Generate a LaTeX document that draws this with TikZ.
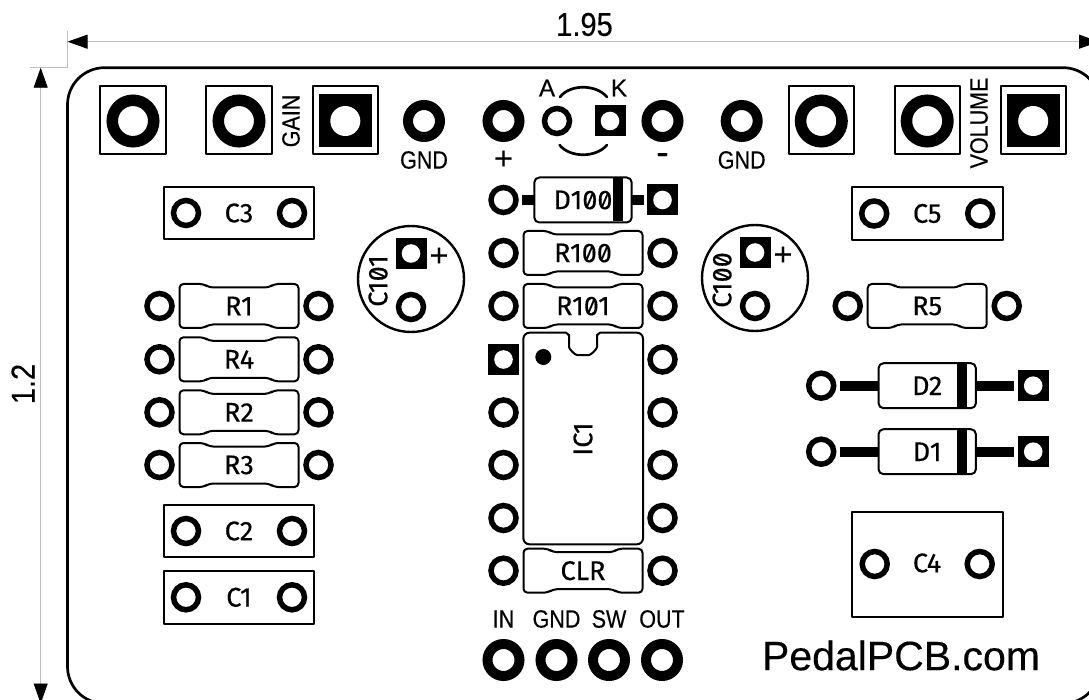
\documentclass[tikz,border=0pt]{standalone}
\usepackage{fontspec}
\usetikzlibrary{arrows.meta}
\setmainfont[FakeBold=0.3]{Liberation Sans}
\newfontfamily\partfont[RawFeature=+zero,FakeBold=0.4]{Fira Sans}
\newfontfamily\tagfont[FakeStretch=0.86,FakeBold=0.3]{Liberation Sans}
\newfontfamily\dimfont[FakeStretch=0.88,FakeBold=0.3]{Liberation Sans}

\tikzset{
  outline/.style={draw=black, line width=2pt, line join=round},
  padbase/.style={circle, draw=black, fill=white, inner sep=0pt},
  smallpad/.style={padbase, line width=5.5pt, minimum size=25pt},
  midpad/.style={padbase, line width=10pt, minimum size=32pt},
  bigpad/.style={padbase, line width=11.5pt, minimum size=41.5pt},
  squarepad/.style={rectangle, fill=black, inner sep=0pt, minimum size=31pt,
    path picture={\fill[white] (path picture bounding box.center) circle (9.3pt);}},
  bigsquarepad/.style={rectangle, fill=black, inner sep=0pt, minimum size=53pt,
    path picture={\fill[white] (path picture bounding box.center) circle (15pt);}},
  partname/.style={inner sep=0pt, font=\partfont\fontsize{27}{29}\selectfont},
  tagname/.style={inner sep=0pt, font=\tagfont\fontsize{25}{27}\selectfont},
  signname/.style={inner sep=0pt, font=\fontsize{32}{34}\selectfont},
  dimname/.style={inner sep=0pt, font=\dimfont\fontsize{33}{35}\selectfont},
  dimline/.style={draw=black!25, line width=0.8pt},
  dimtips/.style={{Triangle[length=20pt,width=14pt,color=black]}-{Triangle[length=20pt,width=14pt,color=black]}},
  lead/.style={line width=10pt},
  pics/resistor/.style={code={
    \draw[outline, rounded corners=4pt] (-59.5,-22) -- (-35,-22) -- (-30,-18.5) -- (30,-18.5) -- (35,-22)
      -- (59.5,-22) -- (59.5,22) -- (35,22) -- (30,18.5) -- (-30,18.5) -- (-35,22) -- (-59.5,22) -- cycle;
    \node[partname] (t) at (0,0) {#1};
    \node[smallpad] (a) at (-79.5,0) {};
    \node[smallpad] (b) at (79.5,0) {};
  }},
  pics/film/.style={code={
    \draw[outline] (-75.3,-26.3) rectangle (75.3,26.3);
    \node[partname] (t) at (0,0) {#1};
    \node[smallpad] (a) at (-53,0) {};
    \node[smallpad] (b) at (53,0) {};
  }},
  pics/diode/.style n args={3}{code={
    \draw[outline, rounded corners=5pt] (-48.7,-22.5) rectangle (48.7,22.5);
    \fill (29.7,-21.5) rectangle (39.7,21.5);
    \coordinate (la) at (-#2,0);
    \coordinate (ra) at (-48.7,0);
    \coordinate (lb) at (48.7,0);
    \coordinate (rb) at (#2,0);
    \draw[lead] (la) -- (ra);
    \draw[lead] (lb) -- (rb);
    \node[partname] (t) at (0,0) {#1};
    \node[smallpad] (a) at (-#3,0) {};
    \node[squarepad] (b) at (#3,0) {};
  }},
  pics/pot/.style={code={
    \draw[outline] (-32.6,-35) rectangle (32.6,32.7);
    \node[#1] (p) at (0,0) {};
  }},
  pics/radial/.style={code={
    \draw[outline, line width=2.4pt] (0,0) circle (53);
    \node[squarepad] (a) at (0,-25.5) {};
    \node[smallpad] (b) at (0,28) {};
    \node[partname] (t) at (-33,2) [rotate=90] {#1};
    \node[signname] (s) at (28,-22) {+};
  }},
}

\begin{document}
\begin{tikzpicture}[x=1pt, y=-1pt]
  \clip (0,0) rectangle (1089,700);
  \useasboundingbox (0,0) rectangle (1089,700);

  % Dimensions
  \coordinate (wl) at (67.5,41.7);
  \coordinate (wr) at (1099,41.7);
  \coordinate (ht) at (40.7,67.7);
  \coordinate (hb) at (40.7,703.5);
  \coordinate (wlt) at (67.5,31.5);
  \coordinate (wlb) at (67.5,67.7);
  \coordinate (hte) at (30,67.7);
  \draw[dimline] (wlt) -- (wlb);
  \draw[dimline] (hte) -- (wlb);
  \draw[dimline, dimtips] (wl) -- (wr);
  \draw[dimline, dimtips] (ht) -- (hb);
  \node[dimname] (width) at (584.5,24.5) {1.95};
  \node[dimname, rotate=90] (height) at (23,384) {1.2};

  % Board
  \draw[draw=black, line width=2.7pt, rounded corners=37pt] (67.5,67.7) rectangle (1100,703.5);

  % Top row
  \pic (pota) at (133,121) {pot=bigpad};
  \pic (potb) at (239,121) {pot=bigpad};
  \pic (potc) at (345.3,121) {pot=bigsquarepad};
  \node[tagname, rotate=90] (gain) at (291,121) {GAIN};
  \node[midpad] (gnda) at (424,121) {};
  \node[tagname] (gndat) at (424,160) {GND};
  \node[midpad] (plus) at (503.5,121) {};
  \node[signname] (plust) at (503.5,160) {+};
  \node[smallpad] (anode) at (557,121) {};
  \node[squarepad] (cathode) at (610,121) {};
  \node[inner sep=0pt, font=\fontsize{24}{26}\selectfont] (anodet) at (547,88) {A};
  \node[inner sep=0pt, font=\fontsize{24}{26}\selectfont] (cathodet) at (619,88) {K};
  \draw[line width=2.7pt, line cap=round] (560,97) .. controls (570,84) and (596,84) .. (607,97);
  \draw[line width=2.7pt, line cap=round] (559.5,145) .. controls (570,158) and (596,158) .. (607,145);
  \node[midpad] (minus) at (662.5,121) {};
  \node[signname, font=\fontsize{38}{40}\selectfont] (minust) at (662.5,159) {-};
  \node[midpad] (gndb) at (741.7,121) {};
  \node[tagname] (gndbt) at (741.7,160) {GND};
  \pic (potd) at (821.3,121) {pot=bigpad};
  \pic (pote) at (927.2,121) {pot=bigpad};
  \pic (potf) at (1033.2,121) {pot=bigsquarepad};
  \node[tagname, rotate=90] (volume) at (979,123) {VOLUME};

  % Left parts
  \pic (c3) at (239,213) {film=C3};
  \pic (c101) at (411,279) {radial=C101};
  \pic (r1) at (239,306) {resistor=R1};
  \pic (r4) at (239,359.3) {resistor=R4};
  \pic (r2) at (239,412.3) {resistor=R2};
  \pic (r3) at (239,465) {resistor=R3};
  \pic (c2) at (239,531) {film=C2};
  \pic (c1) at (239,597.3) {film=C1};

  % Middle column
  \pic (d100) at (583,200) {diode={D100}{61}{79.5}};
  \pic (r100) at (583,253) {resistor=R100};
  \pic (r101) at (583,306) {resistor=R101};
  \pic (clr) at (583,570.7) {resistor=CLR};
  \draw[outline, rounded corners=6pt] (523.4,332.7) -- (560,332.7)
    .. controls (567,332.7) and (569,336) .. (569,341)
    .. controls (569,349) and (575,355) .. (583,355)
    .. controls (591,355) and (597,349) .. (597,341)
    .. controls (597,336) and (599,332.7) .. (606,332.7)
    -- (643,332.7) -- (643,544.3) -- (523.4,544.3) -- cycle;
  \fill (543.3,357) circle (8);
  \node[partname, rotate=90] (ic1) at (583,439) {IC1};
  \node[squarepad] (pin1) at (503.5,359.5) {};
  \node[smallpad] (pin2) at (503.5,412.5) {};
  \node[smallpad] (pin3) at (503.5,465) {};
  \node[smallpad] (pin4) at (503.5,518) {};
  \node[smallpad] (pin5) at (662.5,518) {};
  \node[smallpad] (pin6) at (662.5,465) {};
  \node[smallpad] (pin7) at (662.5,412.5) {};
  \node[smallpad] (pin8) at (662.5,359.5) {};

  % Bottom pads
  \node[tagname] (int) at (503.5,619) {IN};
  \node[tagname] (gndct) at (556.5,619) {GND};
  \node[tagname] (swt) at (609,619) {SW};
  \node[tagname] (outt) at (662,619) {OUT};
  \node[midpad] (in) at (503.5,660) {};
  \node[midpad] (gndc) at (556.5,660) {};
  \node[midpad] (sw) at (609,660) {};
  \node[midpad] (out) at (662,660) {};

  % Right parts
  \pic (c5) at (927.2,213.5) {film=C5};
  \pic (c100) at (755,278) {radial=C100};
  \pic (r5) at (927.2,306) {resistor=R5};
  \pic (d2) at (927.2,385.7) {diode={D2}{87}{106}};
  \pic (d1) at (927.2,451.7) {diode={D1}{87}{106}};
  \draw[outline] (852,511.7) rectangle (1003,616.7);
  \node[smallpad] (c4a) at (874.7,564) {};
  \node[smallpad] (c4b) at (979.7,564) {};
  \node[partname] (c4) at (927,563) {C4};
  \node[inner sep=0pt, font=\fontsize{41}{43}\selectfont] (site) at (901,655.5) {PedalPCB.com};
\end{tikzpicture}
\end{document}
